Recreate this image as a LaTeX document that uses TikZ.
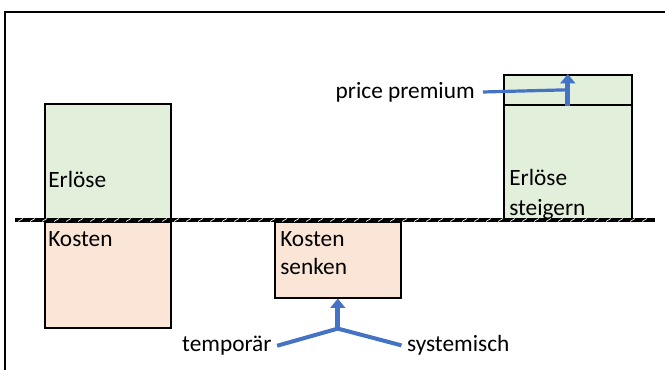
\documentclass[tikz,border=0pt]{standalone}
\usepackage{fontspec}
\setmainfont{Carlito}
\usetikzlibrary{positioning,arrows.meta}

\definecolor{erlgruen}{HTML}{E2EFDA}
\definecolor{kostrosa}{HTML}{FBE5D6}
\definecolor{pfeilblau}{HTML}{4472C4}

\begin{document}
\begin{tikzpicture} [
    x=0.75pt, y=-0.75pt,
    font=\fontsize{17.5}{21.5}\selectfont,
  ]

  \tikzstyle{block} = [
    draw=black,
    line width=1.2pt,
    inner sep=0pt,
    anchor=north west,
    minimum width=94.5pt,
  ]
  \tikzstyle{plus}  = [block, fill=erlgruen]
  \tikzstyle{minus} = [block, fill=kostrosa]
  \tikzstyle{txt}   = [inner sep=0pt, align=left]
  \tikzstyle{blau}  = [draw=pfeilblau, line width=2.4pt]
  \tikzstyle{hoch}  = [
    draw=pfeilblau,
    line width=3.8pt,
    -{Triangle[length=7pt,width=11pt]},
  ]

  \useasboundingbox (0,0) rectangle (665,370);
  \draw[line width=2pt] (5,370) -- (5,12) -- (665,12);

  % Bloecke
  \node[plus,  minimum height=87.75pt]               (erloese)  at (44,103)  {};
  \node[minus, minimum height=79.5pt]                (kosten)   at (44,221)  {};
  \node[minus, minimum height=57pt]                  (senken)   at (274,221) {};
  \node[plus,  minimum height=109.5pt, minimum width=96pt] (steigern) at (503,74) {};
  \node[plus,  minimum height=22.5pt,  minimum width=96pt] (premium)  at (503,74) {};

  % Beschriftung
  \node[txt, anchor=base west] at ([shift={(4,-34)}]erloese.south west) {Erlöse};
  \node[txt, anchor=north west] at ([shift={(4,10)}]kosten.north west) {Kosten};
  \node[txt, anchor=north west] at ([shift={(6,10)}]senken.north west) {Kosten\\senken};
  \node[txt, anchor=north west, font=\fontsize{17.5}{22.5}\selectfont]
    at ([shift={(6,-53)}]steigern.south west) {Erlöse\\steigern};

  % Nulllinie
  \fill (15,218) rectangle (655,222);
  \foreach \hx in {18,30,...,650}
    \draw[white, line width=0.5pt] (\hx,221.5) -- (\hx+5,218.5);

  % price premium
  \node[txt, anchor=east] (pp) at (475,92) {price premium};
  \coordinate (knick) at (premium.center);
  \draw[hoch] (premium.south) -- (premium.north);
  \draw[blau] ([xshift=6pt]pp.east) -- (knick);

  % Kostensenkung
  \coordinate (gabel) at ([shift={(0,30)}]senken.south);
  \node[txt, anchor=base east] (temp) at ([shift={(-66,23)}]gabel) {temporär};
  \node[txt, anchor=base west] (sys)  at ([shift={(69,23)}]gabel)  {systemisch};
  \draw[hoch] (gabel) -- (senken.south);
  \draw[blau, line width=3pt] ([xshift=4pt]temp.east) -- (gabel) -- ([xshift=-4pt]sys.west);

\end{tikzpicture}
\end{document}
